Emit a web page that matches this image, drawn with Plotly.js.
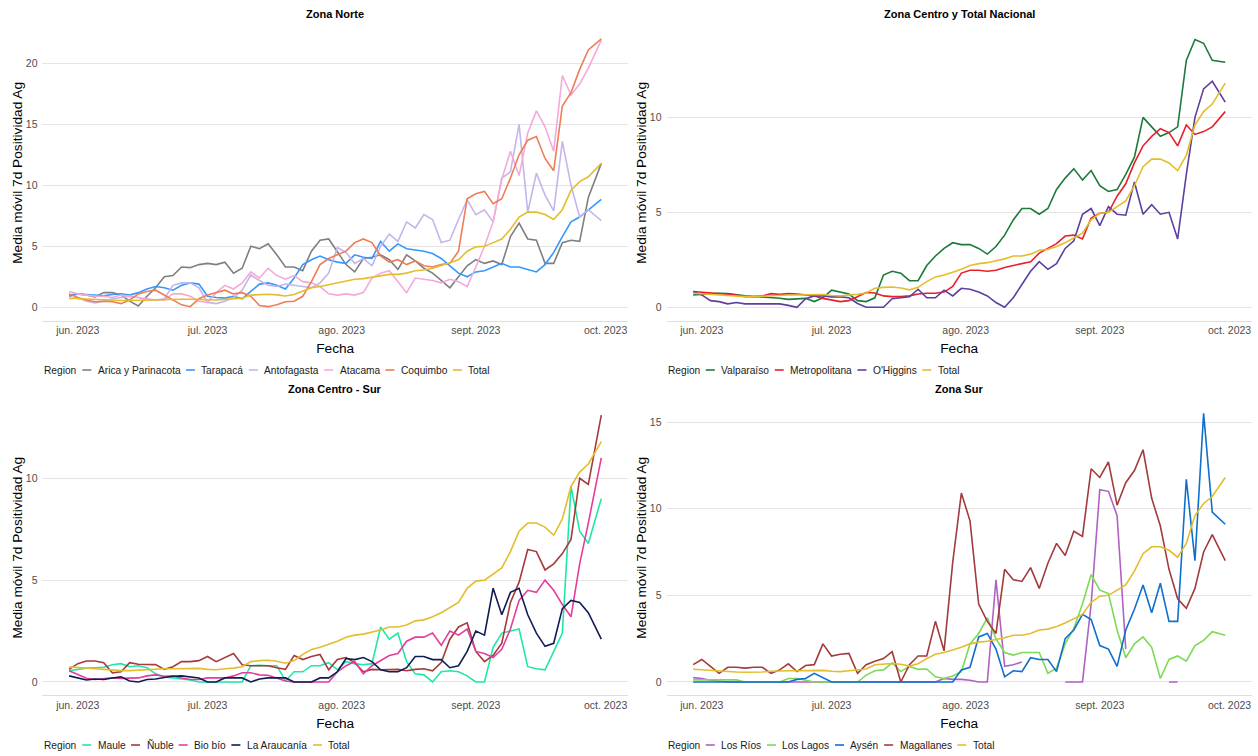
<!DOCTYPE html>
<html>
<head>
<meta charset="utf-8">
<script src="https://cdn.plot.ly/plotly-3.0.1.min.js"></script>
<style>html,body{margin:0;padding:0;background:#fff;}#chart{width:1258px;height:756px;}</style>
</head>
<body>
<div id="chart"></div>
<script>
// ---------- DATA ----------
const fechas = ['2023-05-30','2023-06-01','2023-06-03','2023-06-05','2023-06-07','2023-06-09','2023-06-11','2023-06-13','2023-06-15','2023-06-17',
'2023-06-19','2023-06-21','2023-06-23','2023-06-25','2023-06-27','2023-06-29','2023-07-01','2023-07-03','2023-07-05','2023-07-07',
'2023-07-09','2023-07-11','2023-07-13','2023-07-15','2023-07-17','2023-07-19','2023-07-21','2023-07-23','2023-07-25','2023-07-27',
'2023-07-29','2023-07-31','2023-08-02','2023-08-04','2023-08-06','2023-08-08','2023-08-10','2023-08-12','2023-08-14','2023-08-16',
'2023-08-18','2023-08-20','2023-08-22','2023-08-24','2023-08-26','2023-08-28','2023-08-30','2023-09-01','2023-09-03','2023-09-05',
'2023-09-07','2023-09-09','2023-09-11','2023-09-13','2023-09-15','2023-09-17','2023-09-19','2023-09-21','2023-09-23','2023-09-25',
'2023-09-27','2023-09-30'];

const tickFechas = ['2023-06-01','2023-07-01','2023-08-01','2023-09-01','2023-10-01'];
const tickTextos = ['jun. 2023','jul. 2023','ago. 2023','sept. 2023','oct. 2023'];

const titulosPaneles = ['Zona Norte','Zona Centro y Total Nacional','Zona Centro - Sur','Zona Sur'];
const regionesNorte = ['Arica y Parinacota','Tarapacá','Antofagasta','Atacama','Coquimbo','Total'];
const regionesCentro = ['Valparaíso','Metropolitana',"O'Higgins",'Total'];
const regionesCentroSur = ['Maule','Ñuble','Bio bío','La Araucanía','Total'];
const regionesSur = ['Los Ríos','Los Lagos','Aysén','Magallanes','Total'];

const total = [0.74,0.7,0.68,0.65,0.62,0.58,0.56,0.56,0.58,0.62,
0.65,0.65,0.65,0.66,0.66,0.67,0.62,0.6,0.65,0.68,
0.75,1.0,1.05,1.07,1.02,0.92,1.05,1.35,1.6,1.7,
1.85,2.0,2.2,2.3,2.35,2.45,2.55,2.7,2.7,2.8,
3.0,3.05,3.2,3.4,3.65,3.9,4.6,4.95,5.0,5.3,
5.6,6.4,7.4,7.8,7.8,7.6,7.2,8.0,9.6,10.3,
10.7,11.8];

const arica = [0.9,1.1,1.0,0.85,1.2,1.2,1.0,0.5,0.1,0.9,
1.6,2.5,2.6,3.3,3.25,3.5,3.6,3.5,3.7,2.8,
3.2,5.0,4.8,5.2,4.3,3.3,3.3,3.0,4.6,5.5,
5.6,4.6,3.5,2.9,4.0,4.1,4.3,3.9,3.1,4.3,
3.8,3.2,2.8,2.2,1.6,2.5,3.4,3.9,3.6,3.8,
3.5,5.8,6.9,5.6,5.5,3.6,3.6,5.3,5.5,5.4,
9.0,11.8];

const tarapaca = [1.0,1.1,1.05,1.0,0.95,1.05,1.1,1.0,1.2,1.5,
1.7,1.6,1.4,1.8,2.0,1.9,0.9,0.8,0.75,0.9,
0.7,1.3,1.9,2.0,1.8,1.5,2.4,3.5,3.9,4.2,
3.9,3.7,3.6,4.3,4.1,4.0,5.4,4.6,5.2,4.8,
4.7,4.6,4.4,4.0,3.4,2.8,2.5,2.9,3.0,3.3,
3.6,3.3,3.3,3.1,2.9,3.5,4.5,5.8,7.0,7.4,
8.0,8.85];

const antofagasta = [0.7,0.8,0.5,0.35,0.5,0.7,0.8,0.9,0.8,0.6,
0.6,0.7,1.8,2.0,2.0,1.6,0.4,0.3,0.5,0.8,
1.4,2.65,2.2,1.8,1.7,1.9,1.8,1.7,1.6,2.0,
2.8,4.9,4.5,3.6,4.0,3.4,5.0,6.0,5.4,7.0,
6.5,7.6,7.2,5.3,5.5,7.2,8.8,7.6,8.0,7.0,
10.6,11.1,15.0,7.8,11.0,9.2,7.9,13.6,10.0,7.4,
8.0,7.1];

const atacama = [1.3,1.1,1.0,0.9,0.9,0.8,1.0,0.9,0.8,0.7,
0.6,0.6,1.1,1.1,0.9,0.5,0.4,1.2,1.8,1.5,
2.0,2.9,2.4,3.2,2.6,2.3,2.6,2.1,2.0,1.7,
1.1,1.0,1.1,1.0,1.2,2.4,2.8,3.0,2.1,1.2,
2.4,2.3,2.2,2.0,2.3,2.1,1.7,3.3,5.0,7.0,
10.5,12.8,10.8,14.3,16.1,14.8,12.8,19.0,17.4,18.3,
19.6,21.9];

const coquimbo = [1.1,0.8,0.6,0.45,0.5,0.45,0.3,0.6,1.1,1.3,
1.4,1.0,0.6,0.2,0.05,0.7,1.0,1.2,1.4,1.1,
1.2,0.9,0.15,0.05,0.2,0.45,0.5,0.9,2.1,3.5,
4.0,4.3,4.6,5.3,5.6,5.3,4.2,3.7,3.9,3.5,
3.8,3.4,3.3,3.5,3.6,4.6,8.9,9.3,9.5,8.5,
8.9,10.6,12.5,13.7,14.0,12.2,11.2,16.5,17.6,19.5,
21.1,22.0];

const valparaiso = [0.65,0.68,0.7,0.74,0.72,0.65,0.6,0.57,0.55,0.53,
0.48,0.42,0.45,0.47,0.3,0.5,0.9,0.8,0.7,0.35,
0.3,0.5,1.7,1.9,1.8,1.4,1.4,2.2,2.7,3.1,
3.4,3.3,3.3,3.1,2.8,3.2,3.8,4.6,5.2,5.2,
4.9,5.2,6.2,6.8,7.3,6.7,7.2,6.4,6.1,6.2,
7.0,7.9,10.0,9.5,9.0,9.2,9.5,13.0,14.1,13.9,
13.0,12.9];

const metropolitana = [0.83,0.8,0.74,0.74,0.68,0.65,0.56,0.56,0.6,0.72,
0.68,0.72,0.7,0.66,0.6,0.47,0.4,0.3,0.35,0.55,
0.78,0.75,0.6,0.56,0.56,0.6,0.7,0.74,0.74,0.8,
1.1,1.8,1.95,1.95,1.9,1.95,2.1,2.2,2.3,2.4,
2.85,3.1,3.35,3.75,3.8,3.6,4.7,4.95,5.0,5.85,
6.5,7.6,8.5,9.0,9.4,9.2,8.5,9.6,9.1,9.25,
9.5,10.3];

const ohiggins = [0.83,0.65,0.35,0.3,0.18,0.25,0.18,0.18,0.18,0.18,
0.18,0.1,0.0,0.45,0.6,0.6,0.55,0.55,0.5,0.2,
0.0,0.0,0.0,0.45,0.5,0.55,0.95,0.5,0.5,0.9,
0.6,1.0,0.95,0.8,0.6,0.25,0.0,0.5,1.2,1.9,
2.4,2.0,2.3,3.1,3.5,4.9,5.2,4.3,5.3,4.9,
4.85,6.6,4.9,5.4,4.9,5.0,3.6,7.0,10.0,11.5,
11.9,10.8];

const maule = [0.55,0.62,0.68,0.7,0.72,0.85,0.9,0.75,0.8,0.7,
0.4,0.25,0.2,0.15,0.1,0.0,0.0,0.0,0.0,0.0,
0.0,0.8,0.82,0.8,0.8,0.05,0.5,0.5,0.8,0.8,
0.95,0.6,1.0,0.9,0.85,0.9,2.7,2.1,2.4,1.0,
0.4,0.35,0.0,0.5,0.55,0.5,0.3,0.0,0.0,1.7,
2.4,2.5,2.6,0.75,0.65,0.6,1.5,2.4,9.6,7.4,
6.8,9.0];

const nuble = [0.62,0.9,1.03,1.03,0.95,0.45,0.5,0.95,0.87,0.86,
0.85,0.62,0.75,1.0,1.0,1.05,1.25,1.0,1.2,1.4,
0.85,0.8,0.8,0.8,0.7,0.62,1.3,1.1,1.25,1.35,
0.6,1.1,1.2,0.95,0.5,0.62,0.6,0.6,0.62,0.55,
0.62,0.65,0.55,0.95,2.1,2.7,2.9,1.5,1.0,1.3,
1.9,3.9,4.9,6.5,6.4,5.5,5.8,6.3,7.0,10.0,
9.7,13.1];

const biobio = [0.55,0.35,0.18,0.12,0.15,0.2,0.18,0.2,0.2,0.3,
0.35,0.28,0.3,0.2,0.12,0.12,0.2,0.2,0.2,0.3,
0.45,0.45,0.35,0.33,0.2,0.05,0.0,0.0,0.0,0.0,
0.0,0.5,0.8,1.0,0.4,0.8,1.05,1.3,1.4,2.0,
2.2,2.2,2.4,1.8,2.5,2.3,2.6,1.5,1.4,1.2,
1.6,2.6,4.0,4.5,4.4,5.0,4.5,3.8,3.2,5.8,
7.8,11.0];

const araucania = [0.3,0.2,0.1,0.15,0.12,0.2,0.25,0.05,0.0,0.12,
0.15,0.22,0.28,0.3,0.25,0.2,0.0,0.0,0.2,0.2,
0.2,0.0,0.15,0.2,0.2,0.2,0.0,0.0,0.0,0.2,
0.2,0.5,1.15,1.1,1.2,1.0,0.6,0.5,0.5,0.7,
1.25,1.25,1.1,1.1,0.7,0.8,1.5,2.5,2.3,4.6,
3.3,4.4,4.6,3.3,2.4,1.75,1.9,3.6,4.0,3.9,
3.4,2.1];

const losRios = [0.25,0.2,0.1,0.05,0.0,0.0,0.0,0.0,0.0,0.0,
0.0,0.0,0.0,0.0,0.0,0.0,0.0,0.0,0.0,0.0,
0.0,0.0,0.0,0.0,0.0,0.0,0.0,0.0,0.0,0.2,
0.15,0.15,0.1,0.0,0.0,5.9,0.9,1.0,1.15,null,
null,null,null,0.0,0.0,0.0,4.5,11.1,11.0,9.6,
1.9,null,null,null,null,0.0,0.0,null,null,null,
null,null];

const losLagos = [0.12,0.12,0.12,0.12,0.12,0.12,0.0,0.0,0.0,0.0,
0.0,0.2,0.2,0.1,0.0,0.0,0.0,0.0,0.0,0.0,
0.4,0.65,0.7,1.1,0.6,0.9,0.73,0.75,0.3,0.2,
0.35,0.6,2.2,2.8,3.7,2.5,1.7,1.55,1.7,1.7,
1.7,0.5,0.8,2.2,3.1,4.5,6.2,5.3,5.1,3.0,
1.4,2.2,2.6,2.0,0.2,1.3,1.5,1.2,2.1,2.4,
2.9,2.7];

const aysen = [0.0,0.0,0.0,0.0,0.0,0.0,0.0,0.0,0.0,0.0,
0.0,0.0,0.15,0.2,0.5,0.25,0.0,0.0,0.0,0.0,
0.0,0.0,0.0,0.0,0.0,0.0,0.0,0.0,0.0,0.0,
0.0,0.7,0.85,2.6,2.8,1.9,0.3,0.65,0.6,1.4,
1.3,1.3,0.6,2.5,3.0,3.9,3.6,2.1,1.9,0.9,
3.0,4.2,5.6,4.0,5.7,3.5,3.5,11.7,7.0,15.5,
9.8,9.1];

const magallanes = [1.0,1.3,0.9,0.5,0.85,0.85,0.8,0.85,0.85,0.5,
0.7,1.05,0.6,0.95,1.0,2.2,1.5,1.6,1.65,0.5,
1.0,1.2,1.35,1.75,0.0,1.0,1.5,1.5,3.5,1.8,
6.9,10.9,9.3,4.5,3.5,2.8,6.5,5.9,5.8,6.6,
5.4,6.85,8.0,7.3,8.7,8.4,12.3,11.8,12.7,10.2,
11.5,12.2,13.4,10.6,9.0,6.5,4.8,4.25,5.4,7.5,
8.5,7.0];

// ---------- STYLE ----------
const colores = {
  'Arica y Parinacota':'#7f7f7f','Tarapacá':'#3399ff','Antofagasta':'#c5b5ea','Atacama':'#f5a9da','Coquimbo':'#ee7d55',
  'Valparaíso':'#1c7a3c','Metropolitana':'#e8202a',"O'Higgins":'#5c3fa0',
  'Maule':'#1ee8a8','Ñuble':'#a53b3d','Bio bío':'#e53d9c','La Araucanía':'#111c54',
  'Los Ríos':'#b061c4','Los Lagos':'#7ed957','Aysén':'#0f6fcf','Magallanes':'#a23b3b',
  'Total':'#e4bd2d'
};

const W = 1258, H = 756;
const FONT = 'Liberation Sans, Arial, sans-serif';
const LEG_SIZE = 10.2;

// legend anchor positions in pixels (left x, centre y)
const paneles = [
  {xa:'x', ya:'y', nombres:regionesNorte, datos:[arica,tarapaca,antofagasta,atacama,coquimbo,total], legX:43.5, legY:370},
  {xa:'x2', ya:'y2', nombres:regionesCentro, datos:[valparaiso,metropolitana,ohiggins,total], legX:667, legY:370},
  {xa:'x3', ya:'y3', nombres:regionesCentroSur, datos:[maule,nuble,biobio,araucania,total], legX:43.5, legY:745},
  {xa:'x4', ya:'y4', nombres:regionesSur, datos:[losRios,losLagos,aysen,magallanes,total], legX:667, legY:745}
];

const traces = [];
paneles.forEach(p => {
  p.nombres.forEach((n, k) => {
    traces.push({
      type:'scatter', mode:'lines', x:fechas, y:p.datos[k], name:n,
      xaxis:p.xa, yaxis:p.ya, connectgaps:false, showlegend:false,
      line:{color:colores[n], width:1.6}
    });
  });
});

// text measuring for the ggplot-style compact legends
const ctx = document.createElement('canvas').getContext('2d');
ctx.font = LEG_SIZE + 'px "Liberation Sans", Arial, sans-serif';
function tw(s){ return ctx.measureText(s).width; }

const annotations = [];
const shapes = [];
paneles.forEach(p => {
  const yp = (H - p.legY) / H;
  annotations.push({text:'Region', x:p.legX / W, y:yp, xanchor:'left'});
  let cur = p.legX + tw('Region') + 6.5;
  p.nombres.forEach(n => {
    shapes.push({type:'line', xref:'paper', yref:'paper', x0:cur / W, x1:(cur + 9) / W, y0:yp, y1:yp,
      line:{color:colores[n], width:1.6}});
    const tx = cur + 9 + 5.5;
    annotations.push({text:n, x:tx / W, y:yp, xanchor:'left'});
    cur = tx + tw(n) + 6.5;
  });
});
annotations.forEach(a => Object.assign(a, {xref:'paper', yref:'paper', showarrow:false, yanchor:'middle', borderpad:0,
  font:{size:LEG_SIZE, color:'#1a1a1a'}}));

const titlePos = [[0.2665,0.9815],[0.7625,0.9815],[0.2665,0.4851],[0.7625,0.4851]];
titulosPaneles.forEach((t, k) => {
  annotations.push({text:'<b>'+t+'</b>', x:titlePos[k][0], y:titlePos[k][1], xref:'paper', yref:'paper', showarrow:false,
    xanchor:'center', yanchor:'middle', font:{size:11, color:'#000'}});
});

const xRange = ['2023-05-23 20:24','2023-10-06 03:36'];
function xax(dom, anchor){
  return {domain:dom, anchor:anchor, type:'date', range:xRange, tickmode:'array', tickvals:tickFechas, ticktext:tickTextos,
    showgrid:false, zeroline:false, showline:true, linecolor:'#dedede', linewidth:1, ticks:'',
    tickfont:{size:10.5, color:'#4d4d4d'}, title:{text:'Fecha', font:{size:13.7, color:'#000'}, standoff:8}, fixedrange:true};
}
function yax(dom, anchor, rng, tv){
  return {domain:dom, anchor:anchor, range:rng, tickmode:'array', tickvals:tv, showgrid:true, gridcolor:'#e4e4e4', gridwidth:1,
    zeroline:false, showline:false, ticks:'', ticklabelstandoff:4, tickfont:{size:10.5, color:'#4d4d4d'},
    title:{text:'Media móvil 7d Positividad Ag', font:{size:13.7, color:'#000'}, standoff:0}, fixedrange:true};
}
const XL = [0.03378,0.49913], XR = [0.52985,0.99511];
const YT = [0.5758,0.9669], YB = [0.08016,0.4709];

const layout = {
  width:W, height:H, margin:{l:0,r:0,t:0,b:0}, paper_bgcolor:'#fff', plot_bgcolor:'#fff',
  font:{family:FONT, color:'#1a1a1a'}, showlegend:false,
  xaxis:xax(XL,'y'), yaxis:yax(YT,'x',[-1.1,23.14],[0,5,10,15,20]),
  xaxis2:xax(XR,'y2'), yaxis2:yax(YT,'x2',[-0.705,14.86],[0,5,10]),
  xaxis3:xax(XL,'y3'), yaxis3:yax(YB,'x3',[-0.658,13.84],[0,5,10]),
  xaxis4:xax(XR,'y4'), yaxis4:yax(YB,'x4',[-0.773,16.27],[0,5,10,15]),
  annotations:annotations, shapes:shapes
};

Plotly.newPlot('chart', traces, layout, {displayModeBar:false, responsive:false});
</script>
</body>
</html>
